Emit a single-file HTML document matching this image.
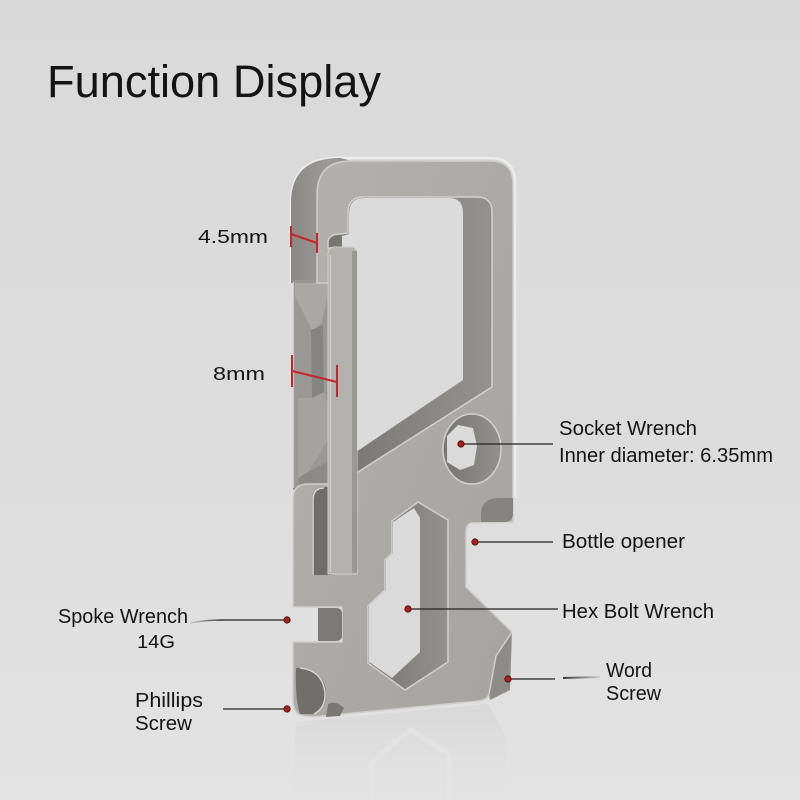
<!DOCTYPE html>
<html><head><meta charset="utf-8">
<style>
html,body{margin:0;padding:0;background:#dcdcdc;}
svg{display:block;}
text{font-family:"Liberation Sans",Arial,sans-serif;fill:#141414;}
</style></head><body>
<svg width="800" height="800" viewBox="0 0 800 800" xmlns="http://www.w3.org/2000/svg">
<defs>
 <linearGradient id="bg" x1="0" y1="0" x2="0" y2="1">
  <stop offset="0" stop-color="#d9d9d9"/>
  <stop offset="0.6" stop-color="#dddddd"/>
  <stop offset="1" stop-color="#e3e3e3"/>
 </linearGradient>
 <linearGradient id="face" x1="0" y1="0" x2="1" y2="1">
  <stop offset="0" stop-color="#b4b2af"/>
  <stop offset="0.5" stop-color="#acaaa7"/>
  <stop offset="1" stop-color="#a6a4a1"/>
 </linearGradient>
 <linearGradient id="side" x1="0" y1="0" x2="1" y2="0">
  <stop offset="0" stop-color="#8a8885"/>
  <stop offset="0.6" stop-color="#9d9b98"/>
  <stop offset="1" stop-color="#8f8d8a"/>
 </linearGradient>
 <linearGradient id="wall" x1="0" y1="0" x2="1" y2="0">
  <stop offset="0" stop-color="#777572"/>
  <stop offset="1" stop-color="#94928f"/>
 </linearGradient>
 <linearGradient id="refl" x1="0" y1="0" x2="0" y2="1">
  <stop offset="0" stop-color="#c8c8c8" stop-opacity="0.35"/>
  <stop offset="1" stop-color="#d8d8d8" stop-opacity="0"/>
 </linearGradient>
 <linearGradient id="fadeL" x1="0" y1="0" x2="1" y2="0">
  <stop offset="0" stop-color="#222" stop-opacity="0.1"/>
  <stop offset="1" stop-color="#222" stop-opacity="0.9"/>
 </linearGradient>
 <linearGradient id="fadeR" x1="0" y1="0" x2="1" y2="0">
  <stop offset="0" stop-color="#222" stop-opacity="0.9"/>
  <stop offset="1" stop-color="#222" stop-opacity="0.1"/>
 </linearGradient>
</defs>

<rect width="800" height="800" fill="url(#bg)"/>

<!-- reflection -->
<path d="M296,722 L488,704 L508,740 L505,800 L292,800 Z" fill="url(#refl)"/>
<path d="M372,800 L372,762 L410,730 L449,754 L449,800" fill="none" stroke="#e8e8e8" stroke-width="5" opacity="0.5"/>

<!-- halo outline -->
<path d="M291,283 L291,203 Q291,158 337,158 L490,158 Q515,158 515,183 L515,498" fill="none" stroke="#ececec" stroke-width="2.5"/>

<!-- side face upper-left -->
<path d="M291,283 L291,203 Q291,158 340,158 L352,161 Q317,161 317,195 L317,283 Z" fill="url(#side)"/>

<!-- spine (twisted screwdriver band) -->
<rect x="293" y="280" width="42" height="210" fill="#9a9895"/>
<path d="M295,283 L327,283 L327,298 L322,322 L313,332 L303,312 L295,296 Z" fill="#aaa8a4"/>
<path d="M311,330 L323,325 L324,392 L312,398 Z" fill="#868481"/>
<path d="M298,398 L312,398 L324,392 L330,410 L328,440 L308,472 L298,478 Z" fill="#a5a39f"/>
<path d="M298,478 L308,472 L330,460 L333,486 L300,490 Z" fill="#8c8a87"/>
<line x1="293.5" y1="282" x2="293.5" y2="488" stroke="#c9c8c5" stroke-width="1.2"/>

<!-- right bottom side face -->
<path d="M512,632 L510,690 L490,700 L489,694 L496,656 Z" fill="#8e8c89"/>

<!-- front face -->
<path d="M317,283 L317,195 Q317,161 351,161 L490,161 Q513,161 513,184 L513,522 L471,523 Q466,525 466,532 L466,587 L512,632 L496,656 L489,694 Q487,700 478,701 L322,716 Q302,718 297,713 Q293,708 293,700 L293,642 L342,642 L342,607 L293,607 L293,499 Q293,484 308,484 L336,484 L336,283 Z" fill="url(#face)" stroke="#cfcecb" stroke-width="1.5" stroke-linejoin="round"/>

<!-- bottle opener dark -->
<path d="M481,522 L481,512 Q483,499 497,498 L513,498 L513,515 Q512,521 506,522 Z" fill="#858380"/>

<!-- spoke wrench notch wall -->
<path d="M318,608 L336,608 Q342,608 342,614 L342,635 Q342,641 336,641 L318,641 Z" fill="#7c7a77"/>

<!-- top hole -->
<path d="M348,213 Q348,197 364,197 L477,197 Q492,197 492,212 L492,387 L358,472 L340,472 L340,248 L328,248 L328,241 Q330,234 340,234 L348,233 Z" fill="url(#wall)" stroke="#d2d1ce" stroke-width="1.5"/>
<path d="M349,214 Q349,198 364,198 L449,198 Q463,198 463,213 L463,380 L356,452 L342,452 L342,236 L349,234 Z" fill="#dbdbdb"/>

<!-- socket -->
<ellipse cx="472" cy="449" rx="29" ry="35" fill="url(#wall)" stroke="#d2d1ce" stroke-width="1.5"/>
<path d="M447,436 L458,425 L473,428 L477,446 L474,465 L460,470 L447,462 Z" fill="#dadada"/>

<!-- hex hole -->
<path d="M418,502 L448,520 L448,662 L405,690 L368,663 L368,606 L385,590 L385,560 L392,553 L392,521 Z" fill="url(#wall)" stroke="#d2d1ce" stroke-width="1.5"/>
<path d="M414,508 L420,518 L420,652 L392,678 L369,662 L369,606 L386,590 L386,560 L393,553 L393,522 Z" fill="#dadada"/>

<!-- gate slot -->
<path d="M312,575 L312,500 Q312,487 324,487 L332,487 L332,575 Z" fill="#6f6d6a"/>
<path d="M313,575 L313,500 Q313,488 324,488" fill="none" stroke="#d8d7d4" stroke-width="1.5"/>

<!-- gate -->
<path d="M328,574 L328,254 Q328,247 335,247 L350,247 Q357,247 357,254 L357,574 Z" fill="#b3b1ad" stroke="#d0cfcc" stroke-width="1"/>
<rect x="352" y="251" width="5" height="322" fill="#9a9895"/>
<line x1="330.5" y1="255" x2="330.5" y2="572" stroke="#cfcecb" stroke-width="1.5"/>

<!-- phillips recess -->
<path d="M296,668 Q322,668 326,690 Q328,708 314,714 L300,714 Q295,700 296,668 Z" fill="#716f6c"/>
<path d="M300,668 Q322,670 325,692 Q326,708 314,714" fill="none" stroke="#d6d5d2" stroke-width="1.5"/>
<path d="M328,704 Q336,700 344,708 L340,716 L326,717 Z" fill="#7a7875"/>

<!-- measurement marks -->
<g stroke="#c4262a" stroke-width="2" fill="none">
 <line x1="291" y1="226" x2="291" y2="247"/>
 <line x1="317" y1="233" x2="317" y2="253"/>
 <line x1="291" y1="234" x2="317" y2="243"/>
 <line x1="292" y1="355" x2="292" y2="387"/>
 <line x1="337" y1="365" x2="337" y2="397"/>
 <line x1="292" y1="371" x2="337" y2="382"/>
</g>

<!-- leader lines -->
<g stroke="#222" stroke-width="1.2">
 <line x1="461" y1="444" x2="553" y2="444"/>
 <line x1="475" y1="542" x2="553" y2="542"/>
 <line x1="408" y1="609" x2="558" y2="609"/>
 <line x1="508" y1="679" x2="555" y2="679"/>
 <line x1="222" y1="620" x2="287" y2="620"/>
 <line x1="223" y1="709" x2="287" y2="709"/>
</g>
<path d="M563,678 L600,677" stroke="url(#fadeR)" stroke-width="2"/>
<path d="M190,623 Q205,620 222,620" fill="none" stroke="url(#fadeL)" stroke-width="1.5"/>

<!-- dots -->
<g fill="#b01c1c" stroke="#3a0a0a" stroke-width="0.8">
 <circle cx="461" cy="444" r="3.2"/>
 <circle cx="475" cy="542" r="3.2"/>
 <circle cx="408" cy="609" r="3.2"/>
 <circle cx="508" cy="679" r="3.2"/>
 <circle cx="287" cy="620" r="3.2"/>
 <circle cx="287" cy="709" r="3.2"/>
</g>

<!-- text -->
<text x="47" y="97" font-size="45" textLength="334" lengthAdjust="spacingAndGlyphs">Function Display</text>
<text x="198" y="243" font-size="18" textLength="70" lengthAdjust="spacingAndGlyphs">4.5mm</text>
<text x="213" y="380" font-size="18" textLength="52" lengthAdjust="spacingAndGlyphs">8mm</text>
<text x="559" y="435" font-size="20" textLength="138" lengthAdjust="spacingAndGlyphs">Socket Wrench</text>
<text x="559" y="462" font-size="20" textLength="214" lengthAdjust="spacingAndGlyphs">Inner diameter: 6.35mm</text>
<text x="562" y="548" font-size="20" textLength="123" lengthAdjust="spacingAndGlyphs">Bottle opener</text>
<text x="562" y="618" font-size="20" textLength="152" lengthAdjust="spacingAndGlyphs">Hex Bolt Wrench</text>
<text x="606" y="677" font-size="20" textLength="46" lengthAdjust="spacingAndGlyphs">Word</text>
<text x="606" y="700" font-size="20" textLength="55" lengthAdjust="spacingAndGlyphs">Screw</text>
<text x="58" y="623" font-size="20" textLength="130" lengthAdjust="spacingAndGlyphs">Spoke Wrench</text>
<text x="137" y="648" font-size="18" textLength="38" lengthAdjust="spacingAndGlyphs">14G</text>
<text x="135" y="707" font-size="20" textLength="68" lengthAdjust="spacingAndGlyphs">Phillips</text>
<text x="135" y="730" font-size="20" textLength="57" lengthAdjust="spacingAndGlyphs">Screw</text>
</svg>
</body></html>
